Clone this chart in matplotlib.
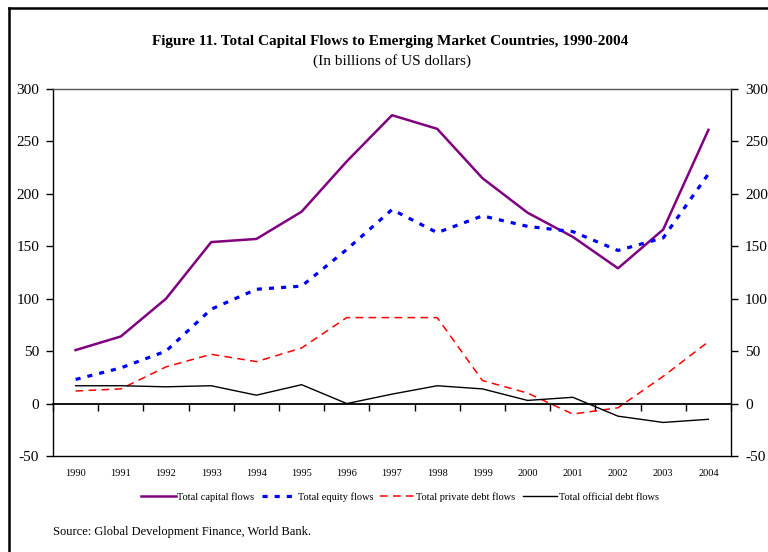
import matplotlib
matplotlib.use("Agg")
import matplotlib.pyplot as plt
from matplotlib.lines import Line2D

plt.rcParams['font.family'] = ['Liberation Serif', 'DejaVu Serif']

years = ['1990', '1991', '1992', '1993', '1994', '1995', '1996', '1997',
         '1998', '1999', '2000', '2001', '2002', '2003', '2004']
total_capital = [51, 64, 100, 154, 157, 183, 231, 275, 262, 215, 182, 159, 129, 166, 261]
total_equity = [23, 34, 50, 90, 109, 112, 147, 185, 163, 179, 169, 164, 146, 158, 219]
private_debt = [12, 14, 35, 47, 40, 53, 82, 82, 82, 22, 10, -10, -4, 26, 59]
official_debt = [17, 17, 16, 17, 8, 18, 0, 9, 17, 14, 3, 6, -12, -18, -15]
yticks = [-50, 0, 50, 100, 150, 200, 250, 300]

fig = plt.figure(figsize=(7.68, 5.52), dpi=100)
ax = fig.add_axes([53/768, 1-456/552, (731-53)/768, (456-89)/552])

x = list(range(len(years)))
ax.plot(x, total_capital, color='#800080', lw=1.8, label='Total capital flows')
ax.plot(x, total_equity, color='#0000FF', lw=2.3, linestyle=(0, (1.6, 2.2)),
        label='Total equity flows')
ax.plot(x, private_debt, color='#FF0000', lw=1.1, linestyle=(0, (5, 3.5)),
        label='Total private debt flows')
ax.plot(x, official_debt, color='black', lw=1.0, label='Total official debt flows')

ax.set_xlim(-0.5, len(years) - 0.5)
ax.set_ylim(-50, 300)
ax.set_yticks(yticks)
ax.set_yticklabels([str(v) for v in yticks])
ax.tick_params(axis='y', direction='out', length=5, width=1, labelsize=11,
               pad=5, right=True, labelright=True)

# x axis crossing at zero with boundary ticks
ax.spines['bottom'].set_position(('data', 0))
ax.spines['bottom'].set_linewidth(1.3)
ax.set_xticks([i - 0.5 for i in range(len(years) + 1)])
ax.tick_params(axis='x', direction='out', length=5, width=1, labelbottom=False)
for s in ['left', 'right', 'top']:
    ax.spines[s].set_linewidth(1.0)
ax.spines['top'].set_color('#555555')

sec = ax.secondary_xaxis(0.0)
sec.set_xticks(x)
sec.set_xticklabels(years)
sec.tick_params(axis='x', length=0, labelsize=7.5, pad=9)
sec.spines['bottom'].set_linewidth(1.0)

fig.text(390/768, 1-41/552, 'Figure 11. Total Capital Flows to Emerging Market Countries, 1990-2004',
         ha='center', va='center', fontsize=11, fontweight='bold')
fig.text(392/768, 1-61/552, '(In billions of US dollars)',
         ha='center', va='center', fontsize=11)

fig.legend(loc='center', bbox_to_anchor=(400/768, 1-497/552), ncol=4, frameon=False,
           fontsize=7.5, handlelength=3.3, handletextpad=0.15, columnspacing=0.7)

fig.text(53/768, 1-532/552, 'Source: Global Development Finance, World Bank.',
         ha='left', va='center', fontsize=9)

# outer frame (partially visible)
fig.add_artist(Line2D([9/768, 9/768], [0, 1-8/552], transform=fig.transFigure,
                      color='black', lw=1.8))
fig.add_artist(Line2D([9/768, 1], [1-8/552, 1-8/552], transform=fig.transFigure,
                      color='black', lw=1.8))

fig.savefig('out.png', dpi=100)
